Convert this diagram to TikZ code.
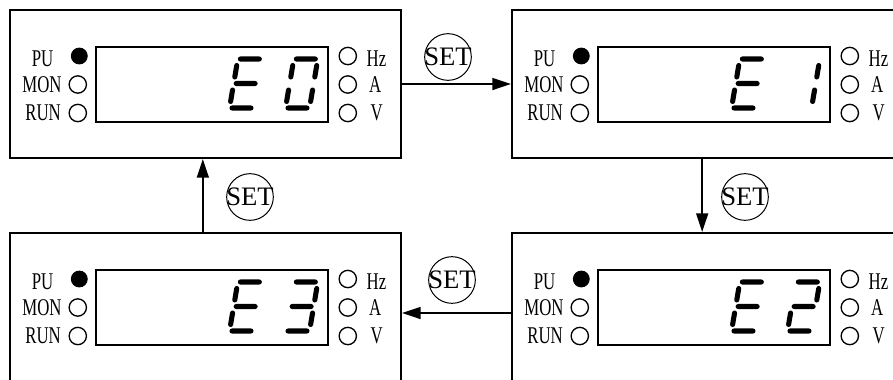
\documentclass[tikz,border=0pt]{standalone}
\usepackage{fontspec}
\setmainfont{Liberation Serif}
\newfontfamily\ledfont[FakeStretch=0.7]{Liberation Serif}
\usetikzlibrary{arrows.meta,positioning}

\newcommand{\segA}{(2.5,-49) -- (21.5,-49)}
\newcommand{\segB}{(24,-42.5) -- (24,-31)}
\newcommand{\segC}{(24,-18) -- (24,-6.5)}
\newcommand{\segD}{(2.5,0) -- (21.5,0)}
\newcommand{\segE}{(0,-18) -- (0,-6.5)}
\newcommand{\segF}{(0,-42.5) -- (0,-31)}
\newcommand{\segG}{(2.5,-24.5) -- (21.5,-24.5)}

\tikzset{
  panel/.style={draw, line width=1.5pt, minimum width=293.25pt, minimum height=111pt, inner sep=0pt},
  display/.style={draw, line width=1.2pt, minimum width=174pt, minimum height=56.25pt, inner sep=0pt},
  led/.style={circle, draw, line width=1pt, minimum size=13pt, inner sep=0pt},
  ledon/.style={circle, draw, fill=black, line width=0.6pt, minimum size=12pt, inner sep=0pt},
  ledtext/.style={font=\ledfont\fontsize{18}{18}\selectfont, inner sep=0pt},
  setkey/.style={circle, draw, line width=0.75pt, minimum size=35pt, inner sep=0pt, font=\fontsize{20}{20}\selectfont},
  flow/.style={-{Triangle[length=14pt,width=9pt]}, line width=1.2pt},
  segbar/.style={line width=3.8pt, line cap=round},
  dig E/.pic={\draw[segbar] \segA \segD \segE \segF \segG;},
  dig 0/.pic={\draw[segbar] \segA \segB \segC \segD \segE \segF;},
  dig 1/.pic={\draw[segbar] \segB \segC;},
  dig 2/.pic={\draw[segbar] \segA \segB \segG \segE \segD;},
  dig 3/.pic={\draw[segbar] \segA \segB \segG \segC \segD;}
}

\begin{document}
\begin{tikzpicture}[x=0.75pt,y=-0.75pt]
\useasboundingbox (0,0) rectangle (893,379);

\foreach \p/\x/\y/\d in {tl/10/10/0, tr/512/10/1, br/512/233/2, bl/10/233/3} {
  \node[panel] (\p) at (\x+195.5,\y+74) {};
  \node[display] (\p-disp) at (\x+202,\y+74.5) {};
  \node[ledon] (\p-pu) at (\x+69.3,\y+46) {};
  \node[led] (\p-mon) at (\x+67.8,\y+74.5) {};
  \node[led] (\p-run) at (\x+67.8,\y+103) {};
  \node[ledtext, left=13pt of \p-pu, yshift=-2pt] (\p-pu-l) {PU};
  \node[ledtext, left=5pt of \p-mon] (\p-mon-l) {MON};
  \node[ledtext, left=5.5pt of \p-run] (\p-run-l) {RUN};
  \node[led] (\p-hz) at (\x+337.8,\y+46) {};
  \node[led] (\p-a) at (\x+337.8,\y+74.5) {};
  \node[led] (\p-v) at (\x+337.8,\y+103) {};
  \node[ledtext, right=7pt of \p-hz, yshift=-2pt] (\p-hz-l) {Hz};
  \node[ledtext, right=8.8pt of \p-a] (\p-a-l) {A};
  \node[ledtext, right=10pt of \p-v] (\p-v-l) {V};
  \pic[xslant=0.17] at (\x+219.5,\y+98) {dig E};
  \pic[xslant=0.17] at (\x+275.5,\y+98) {dig \d};
}

\draw[flow] (tl) -- (tr);
\draw[flow] ([xshift=-4pt]tr.south) -- ([xshift=-4pt]br.north);
\draw[flow] ([yshift=-4.5pt]br.west) -- ([yshift=-4.5pt]bl.east);
\draw[flow] ([xshift=-2pt]bl.north) -- ([xshift=-2pt]tl.south);

\node[setkey] (set1) at (448,57) {\makebox[0pt]{SET}};
\node[setkey] (set2) at (745,197) {\makebox[0pt]{SET}};
\node[setkey] (set3) at (452,280) {\makebox[0pt]{SET}};
\node[setkey] (set4) at (250,197) {\makebox[0pt]{SET}};
\end{tikzpicture}
\end{document}
